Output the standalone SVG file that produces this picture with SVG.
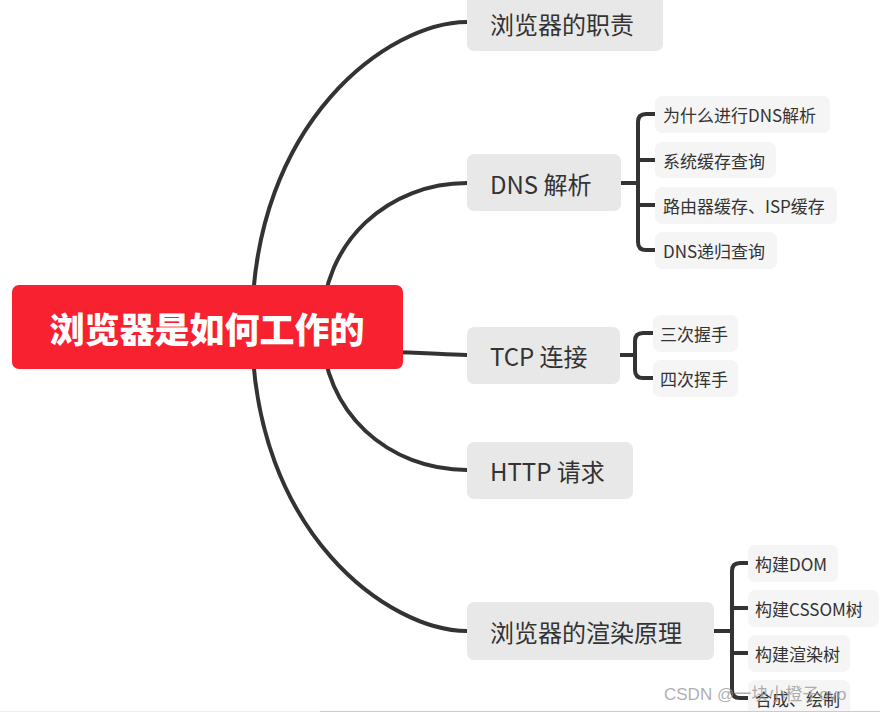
<svg xmlns="http://www.w3.org/2000/svg" width="880" height="712" viewBox="0 0 880 712">
<style>
.conn{fill:none;stroke:#333333;stroke-width:4;stroke-linecap:butt}
.main rect{fill:#e8e8e8}
.main text{font-family:"Noto Sans CJK SC","Noto Sans",sans-serif;font-size:24px;fill:#333333;dominant-baseline:central}
.sub rect{fill:#f5f5f5}
.sub text{font-family:"Noto Sans CJK SC","Noto Sans",sans-serif;font-size:17px;fill:#333333;dominant-baseline:central}
.root text{font-family:"Noto Sans CJK SC",sans-serif;font-size:35px;font-weight:900;fill:#ffffff;dominant-baseline:central}
</style>
<rect width="880" height="712" fill="#ffffff"/>
<g id="connectors">
<path class="conn" d="M252 327 C252 120 390 22 467 22"/>
<path class="conn" d="M322 327 C322 240 390 183 467 183"/>
<path class="conn" d="M380 352 C430 352 440 355 467 355"/>
<path class="conn" d="M322 327 C322 414 390 470 467 470"/>
<path class="conn" d="M252 327 C252 534 390 631 467 631"/>
<path class="conn" d="M621 183 H638 M655 114 H646 Q638 114 638 122 V242 Q638 250 646 250 H655 M638 160 H655 M638 205 H655"/>
<path class="conn" d="M620 355 H635 M653 333 H643 Q635 333 635 341 V370 Q635 378 643 378 H653"/>
<path class="conn" d="M714 631 H732 M748 563 H740 Q732 563 732 571 V690 Q732 698 740 698 H748 M732 608 H748 M732 653 H748"/>
</g>
<g id="root" class="root">
<rect x="12" y="285" width="391" height="84" rx="7" fill="#f7212f"/>
<text x="207" y="327" text-anchor="middle">浏览器是如何工作的</text>
</g>
<g id="n1" class="main"><rect x="467" y="-6" width="196" height="57" rx="7"/><text x="490" y="23">浏览器的职责</text></g>
<g id="n2" class="main"><rect x="467" y="154" width="154" height="57" rx="7"/><text x="490" y="183">DNS 解析</text></g>
<g id="n3" class="main"><rect x="467" y="327" width="153" height="57" rx="7"/><text x="490" y="355">TCP 连接</text></g>
<g id="n4" class="main"><rect x="467" y="442" width="166" height="57" rx="7"/><text x="490" y="470">HTTP 请求</text></g>
<g id="n5" class="main"><rect x="467" y="602" width="247" height="58" rx="7"/><text x="490" y="631">浏览器的渲染原理</text></g>
<g id="s21" class="sub"><rect x="655" y="96" width="175" height="37" rx="7"/><text x="663" y="114">为什么进行DNS解析</text></g>
<g id="s22" class="sub"><rect x="655" y="142" width="121" height="36" rx="7"/><text x="663" y="160">系统缓存查询</text></g>
<g id="s23" class="sub"><rect x="655" y="187" width="182" height="37" rx="7"/><text x="663" y="205">路由器缓存、ISP缓存</text></g>
<g id="s24" class="sub"><rect x="655" y="232" width="122" height="37" rx="7"/><text x="663" y="250">DNS递归查询</text></g>
<g id="s31" class="sub"><rect x="653" y="315" width="85" height="37" rx="7"/><text x="660" y="333">三次握手</text></g>
<g id="s32" class="sub"><rect x="653" y="360" width="85" height="37" rx="7"/><text x="660" y="378">四次挥手</text></g>
<g id="s51" class="sub"><rect x="748" y="545" width="90" height="37" rx="7"/><text x="755" y="563">构建DOM</text></g>
<g id="s52" class="sub"><rect x="748" y="590" width="131" height="37" rx="7"/><text x="755" y="608">构建CSSOM树</text></g>
<g id="s53" class="sub"><rect x="748" y="635" width="102" height="37" rx="7"/><text x="755" y="653">构建渲染树</text></g>
<g id="s54" class="sub"><rect x="748" y="680" width="102" height="37" rx="7"/><text x="755" y="698">合成、绘制</text></g>
<text x="664" y="700" font-family="'Liberation Sans','Noto Sans CJK SC',sans-serif" font-size="17" fill="#9a9a9a" fill-opacity="0.8">CSDN @一块小橙子ovo</text>
<line x1="0" y1="711.5" x2="320" y2="711.5" stroke="#eeeeee" stroke-width="1"/>
<line x1="320" y1="711.5" x2="880" y2="711.5" stroke="#cccccc" stroke-width="1"/>
</svg>
